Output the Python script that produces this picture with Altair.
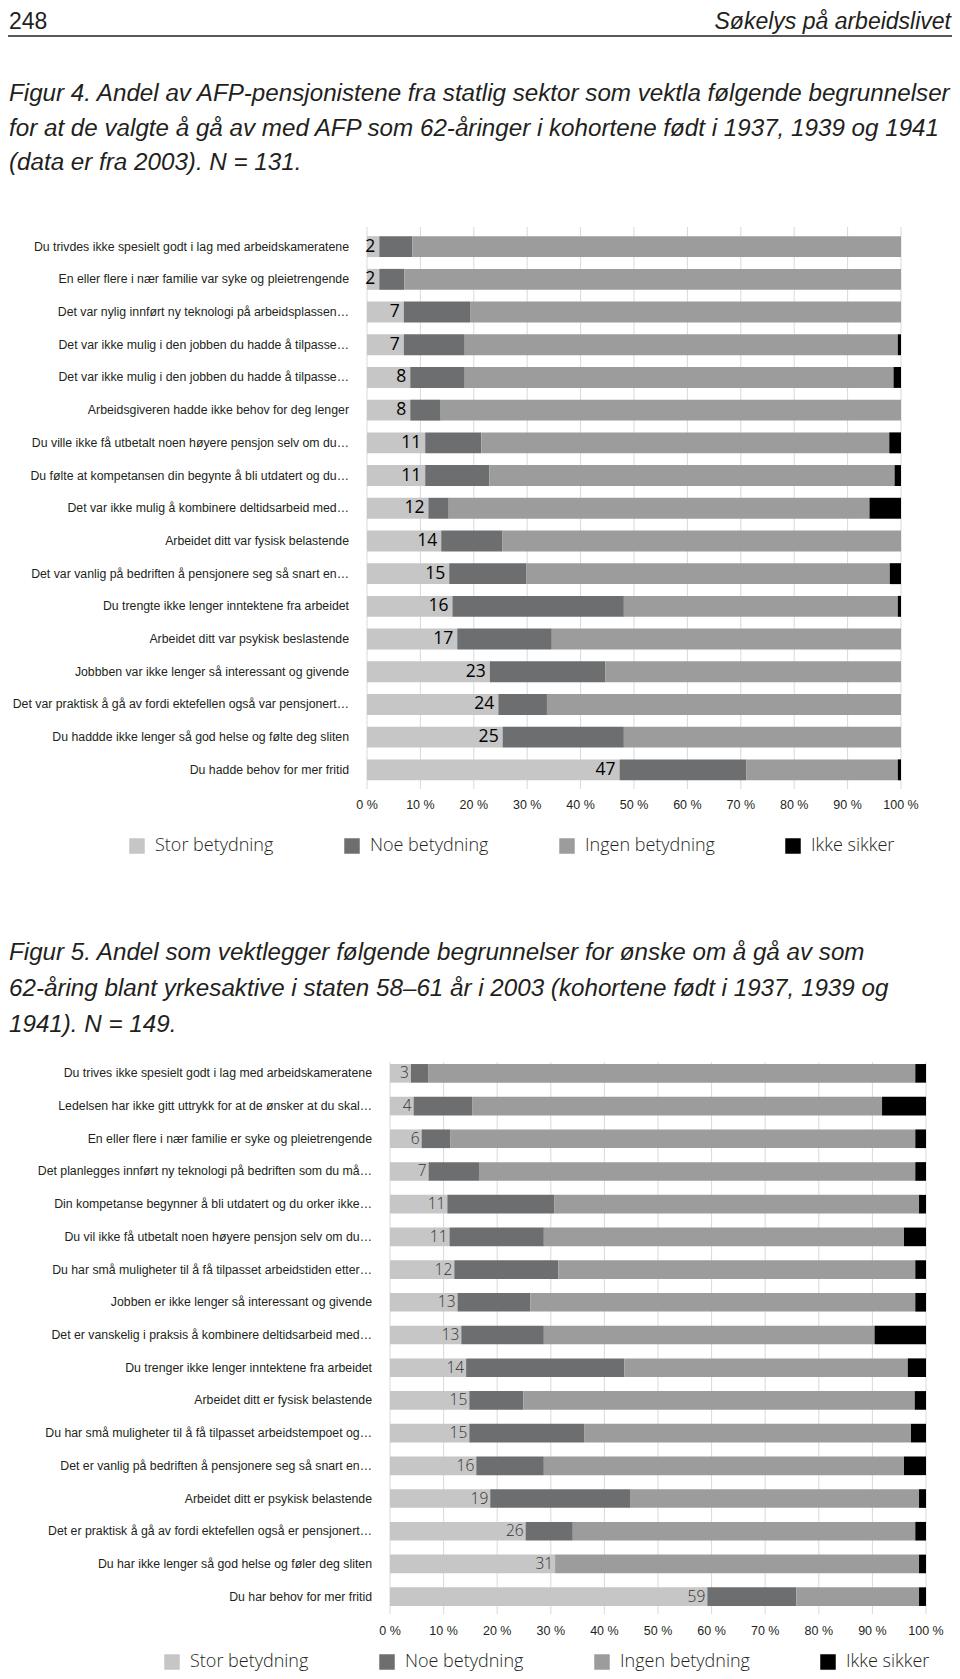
import altair as alt
import pandas as pd

# ---------------- data ----------------
categories = ["Stor betydning", "Noe betydning", "Ingen betydning", "Ikke sikker"]
colors = ["#c6c6c6", "#6d6e70", "#9c9c9d", "#000000"]
ticks = [0, 10, 20, 30, 40, 50, 60, 70, 80, 90, 100]
tick_labels = ["0 %", "10 %", "20 %", "30 %", "40 %", "50 %", "60 %", "70 %", "80 %", "90 %", "100 %"]

labels4 = [
    "Du trivdes ikke spesielt godt i lag med arbeidskameratene",
    "En eller flere i nær familie var syke og pleietrengende",
    "Det var nylig innført ny teknologi på arbeidsplassen\u2026",
    "Det var ikke mulig i den jobben du hadde  å tilpasse\u2026",
    "Det var ikke mulig i den jobben du hadde  å tilpasse\u2026",
    "Arbeidsgiveren hadde ikke behov for deg lenger",
    "Du ville ikke få utbetalt noen høyere pensjon selv om du\u2026",
    "Du følte at kompetansen din begynte å bli utdatert og du\u2026",
    "Det var ikke mulig å kombinere deltidsarbeid med\u2026",
    "Arbeidet ditt var fysisk belastende",
    "Det var vanlig på bedriften å pensjonere seg så snart en\u2026",
    "Du trengte ikke lenger inntektene fra arbeidet",
    "Arbeidet ditt var psykisk beslastende",
    "Jobbben var ikke lenger så interessant og givende",
    "Det var praktisk å gå av fordi ektefellen også var pensjonert\u2026",
    "Du haddde ikke lenger så god helse og følte deg sliten",
    "Du hadde behov for mer fritid",
]
stor4 = [2.3, 2.3, 6.9, 6.9, 8.1, 8.1, 10.9, 10.9, 11.5, 13.9, 15.4, 16.0, 16.9, 23.0, 24.6, 25.4, 47.3]
noe4 = [6.2, 4.7, 12.4, 11.4, 10.2, 5.7, 10.5, 12.0, 3.8, 11.4, 14.4, 32.1, 17.7, 21.6, 9.1, 22.7, 23.7]
ingen4 = [91.5, 93.0, 80.7, 81.1, 80.3, 86.2, 76.4, 75.9, 78.8, 74.7, 68.1, 51.3, 65.4, 55.4, 66.3, 51.9, 28.4]
ikke4 = [0, 0, 0, 0.6, 1.4, 0, 2.2, 1.2, 5.9, 0, 2.1, 0.6, 0, 0, 0, 0, 0.6]
num4 = [2, 2, 7, 7, 8, 8, 11, 11, 12, 14, 15, 16, 17, 23, 24, 25, 47]

labels5 = [
    "Du trives ikke spesielt godt i lag med arbeidskameratene",
    "Ledelsen har ikke gitt uttrykk for at de ønsker at du skal\u2026",
    "En eller flere i nær familie er syke og pleietrengende",
    "Det  planlegges innført ny teknologi på bedriften som du må\u2026",
    "Din kompetanse begynner å bli utdatert og du orker ikke\u2026",
    "Du vil ikke få utbetalt noen høyere pensjon selv om du\u2026",
    "Du har små muligheter til å få tilpasset arbeidstiden etter\u2026",
    "Jobben er ikke lenger så interessant og givende",
    "Det er vanskelig i praksis å kombinere deltidsarbeid med\u2026",
    "Du trenger ikke lenger inntektene fra arbeidet",
    "Arbeidet ditt er fysisk belastende",
    "Du har små muligheter til å få tilpasset arbeidstempoet og\u2026",
    "Det er vanlig på bedriften å pensjonere seg så snart en\u2026",
    "Arbeidet ditt er psykisk belastende",
    "Det er praktisk å gå av fordi ektefellen også er pensjonert\u2026",
    "Du har ikke lenger så god helse og føler deg sliten",
    "Du har behov for mer fritid",
]
stor5 = [3.9, 4.4, 5.9, 7.2, 10.7, 11.1, 12.0, 12.6, 13.3, 14.2, 14.8, 14.8, 16.1, 18.7, 25.3, 30.8, 59.2]
noe5 = [3.3, 11.0, 5.4, 9.4, 20.0, 17.6, 19.4, 13.6, 15.4, 29.5, 10.1, 21.5, 12.6, 26.2, 8.8, 0.0, 16.6]
ingen5 = [90.8, 76.4, 86.7, 81.4, 68.0, 67.2, 66.6, 71.8, 61.7, 52.9, 73.0, 60.9, 67.2, 53.8, 63.9, 67.9, 22.9]
ikke5 = [2.0, 8.2, 2.0, 2.0, 1.3, 4.1, 2.0, 2.0, 9.6, 3.4, 2.1, 2.8, 4.1, 1.3, 2.0, 1.3, 1.3]
num5 = [3, 4, 6, 7, 11, 11, 12, 13, 13, 14, 15, 15, 16, 19, 26, 31, 59]

page_label = "248"
running_head = "Søkelys på arbeidslivet"
title4 = [
    "Figur 4. Andel av AFP-pensjonistene fra statlig sektor som vektla følgende begrunnelser",
    "for at de valgte å gå av med AFP som 62-åringer i kohortene født i 1937, 1939 og 1941",
    "(data er fra 2003). N = 131.",
]
title5 = [
    "Figur 5. Andel som vektlegger følgende begrunnelser for ønske om å gå av som",
    "62-åring blant yrkesaktive i staten 58\u201361 år i 2003 (kohortene født i 1937, 1939 og",
    "1941). N = 149.",
]

COND = "Liberation Sans, Arial, sans-serif"
LEG = "Open Sans, Lato, sans-serif"
INK = "#231f20"


def P(v):
    return v - 8


def long_df(stor, noe, ingen, ikke):
    rows = []
    for i in range(len(stor)):
        for j, vals in enumerate([stor, noe, ingen, ikke]):
            rows.append({"key": f"r{i:02d}", "cat": categories[j], "val": vals[i], "ord": j})
    return pd.DataFrame(rows)


def figure(labels, stor, noe, ingen, ikke, nums, x0, x1, ytop, ybot, pin,
           grid_top, grid_bot, tick_y, leg_x, leg_y, label_x, num_size, num_color,
           num_weight, num_dx):
    keys = [f"r{i:02d}" for i in range(len(labels))]
    xs = alt.Scale(domain=[0, 100], range=[P(x0), P(x1)], nice=False, zero=False)
    ys = alt.Scale(domain=keys, range=[P(ytop), P(ybot)], paddingInner=pin, paddingOuter=pin / 2)
    df = long_df(stor, noe, ingen, ikke)
    wide = pd.DataFrame({"key": keys, "label": labels, "stor": stor, "num": nums})
    tdf = pd.DataFrame({"t": ticks, "lab": tick_labels})

    grid = alt.Chart(tdf).mark_rule(color="#d9d9d9", strokeWidth=1).encode(
        x=alt.X("t:Q", scale=xs, axis=None),
        y=alt.value(P(grid_top)), y2=alt.value(P(grid_bot)),
    )
    bars = alt.Chart(df).mark_bar(strokeWidth=0).encode(
        x=alt.X("val:Q", stack="zero", scale=xs, axis=None),
        y=alt.Y("key:N", scale=ys, axis=None),
        color=alt.Color(
            "cat:N",
            scale=alt.Scale(domain=categories, range=colors),
            legend=alt.Legend(
                orient="none", legendX=P(leg_x), legendY=P(leg_y), direction="horizontal",
                title=None, symbolType="square", symbolSize=240, symbolStrokeWidth=0,
                labelFont=LEG, labelFontSize=18, labelFontWeight=300, labelColor=INK,
                labelOffset=9, columnPadding=69, labelLimit=400,
            ),
        ),
        order=alt.Order("ord:Q"),
    )
    rowlab = alt.Chart(wide).mark_text(
        align="right", baseline="middle", font=COND, fontSize=12.3, color=INK
    ).encode(
        x=alt.value(P(label_x)),
        y=alt.Y("key:N", scale=ys, axis=None),
        text="label:N",
    )
    vals = alt.Chart(wide).mark_text(
        align="right", baseline="middle", dx=num_dx, font=LEG, fontSize=num_size,
        color=num_color, fontWeight=num_weight,
    ).encode(
        x=alt.X("stor:Q", scale=xs, axis=None),
        y=alt.Y("key:N", scale=ys, axis=None),
        text="num:Q",
    )
    ticklab = alt.Chart(tdf).mark_text(
        align="center", baseline="middle", font=COND, fontSize=12.5, color=INK
    ).encode(
        x=alt.X("t:Q", scale=xs, axis=None),
        y=alt.value(P(tick_y)),
        text="lab:N",
    )
    return alt.layer(grid, bars, rowlab, vals, ticklab)


fig4 = figure(labels4, stor4, noe4, ingen4, ikke4, num4, 367, 901, 230.3, 786.2, 0.36,
              227, 789, 805, 128, 837, 349, 17.5, "#000000", 400, -4)
fig5 = figure(labels5, stor5, noe5, ingen5, ikke5, num5, 390, 926, 1057, 1613, 0.43,
              1062, 1614, 1631, 163, 1653, 372, 15.5, "#333333", 300, -2)

one = pd.DataFrame({"a": [0]})
head_left = alt.Chart(one).mark_text(
    align="left", baseline="alphabetic", font=COND, fontSize=23, color=INK
).encode(x=alt.value(P(9)), y=alt.value(P(29)), text=alt.value(page_label))
head_right = alt.Chart(one).mark_text(
    align="right", baseline="alphabetic", font=COND, fontSize=23, fontStyle="italic", color=INK
).encode(x=alt.value(P(951)), y=alt.value(P(29)), text=alt.value(running_head))
head_rule = alt.Chart(one).mark_rule(color=INK, strokeWidth=1.5).encode(
    x=alt.value(P(8)), x2=alt.value(P(952)), y=alt.value(P(36))
)
t4 = alt.Chart(one).mark_text(
    align="left", baseline="alphabetic", font=COND, fontSize=24.2, fontStyle="italic",
    color=INK, lineHeight=34.5,
).encode(x=alt.value(P(9)), y=alt.value(P(101)), text=alt.value(title4))
t5 = alt.Chart(one).mark_text(
    align="left", baseline="alphabetic", font=COND, fontSize=24.2, fontStyle="italic",
    color=INK, lineHeight=36,
).encode(x=alt.value(P(9)), y=alt.value(P(960)), text=alt.value(title5))

chart = alt.layer(head_left, head_right, head_rule, t4, t5, fig4, fig5).resolve_scale(
    x="independent", y="independent", color="independent"
).properties(
    width=944, height=1663, autosize=alt.AutoSizeParams(type="none"), padding=0,
    background="white",
).configure_view(stroke=None)

chart.save("out.html", embed_options={"renderer": "svg", "actions": False})
